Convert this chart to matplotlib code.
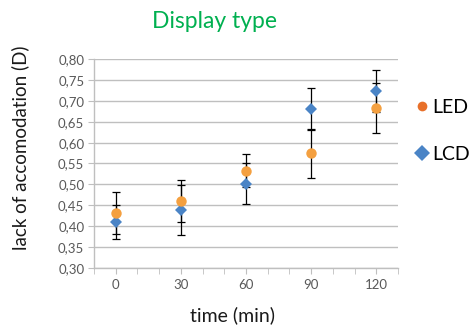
import matplotlib

matplotlib.use("Agg")
import matplotlib.pyplot as plt
from matplotlib.lines import Line2D

# data
times = [0, 30, 60, 90, 120]
led_values = [0.432, 0.460, 0.533, 0.574, 0.682]
led_errors = [0.050, 0.050, 0.040, 0.058, 0.060]
lcd_values = [0.410, 0.438, 0.502, 0.681, 0.724]
lcd_errors = [0.040, 0.060, 0.050, 0.050, 0.050]
y_ticks = [0.30, 0.35, 0.40, 0.45, 0.50, 0.55, 0.60, 0.65, 0.70, 0.75, 0.80]
x_ticks = [0, 30, 60, 90, 120]

ORANGE = "#F4A040"
ORANGE_LEGEND = "#E8702A"
BLUE = "#4A84C6"
GREEN = "#00B050"
GRID = "#BFBFBF"
TICK_TEXT = "#595959"
W, H = 472, 327

plt.rcParams["font.family"] = ["Lato", "DejaVu Sans"]

fig = plt.figure(figsize=(W / 100, H / 100), dpi=100)
ax = fig.add_axes([94 / W, 1 - 267.7 / H, (398 - 94) / W, (267.7 - 59.3) / H])

ax.errorbar(times, lcd_values, yerr=lcd_errors, fmt="none", ecolor="black",
            elinewidth=0.9, capsize=2.6, capthick=0.9, zorder=3)
ax.errorbar(times, led_values, yerr=led_errors, fmt="none", ecolor="black",
            elinewidth=0.9, capsize=2.6, capthick=0.9, zorder=3)
ax.plot(times, lcd_values, linestyle="none", marker="D", markersize=6.0,
        color=BLUE, markeredgewidth=0, zorder=4)
ax.plot(times, led_values, linestyle="none", marker="o", markersize=7.5,
        color=ORANGE, markeredgewidth=0, zorder=4)

ax.set_xlim(-10, 130)
ax.set_ylim(0.30, 0.80)
ax.set_yticks(y_ticks)
ax.set_yticklabels([f"{v:.2f}".replace(".", ",") for v in y_ticks])
ax.set_xticks(x_ticks)
ax.set_xticks(range(-10, 131, 10), minor=True)
ax.grid(axis="y", color=GRID, linewidth=1.0, zorder=0)
ax.set_axisbelow(True)
for side in ("top", "right"):
    ax.spines[side].set_visible(False)
for side in ("left", "bottom"):
    ax.spines[side].set_color(GRID)
    ax.spines[side].set_linewidth(1.0)
ax.tick_params(axis="y", length=4, color=GRID, labelsize=9.5, labelcolor=TICK_TEXT, pad=3)
ax.tick_params(axis="x", which="both", length=4, color=GRID, labelsize=9.5,
               labelcolor=TICK_TEXT, pad=4)

fig.text(215 / W, 1 - 21 / H, "Display type", color=GREEN, fontsize=16.5,
         ha="center", va="center")
fig.text(20 / W, 1 - 148 / H, "lack of accomodation (D)", rotation=90,
         fontsize=13.5, ha="center", va="center", color="#1a1a1a")
fig.text(232 / W, 1 - 315 / H, "time (min)", fontsize=14, ha="center",
         va="center", color="#1a1a1a")

handles = [
    Line2D([], [], linestyle="none", marker="o", markersize=7, color=ORANGE_LEGEND,
           markeredgewidth=0),
    Line2D([], [], linestyle="none", marker="D", markersize=8, color=BLUE,
           markeredgewidth=0),
]
fig.legend(handles, ["LED", "LCD"], loc="upper left",
           bbox_to_anchor=(404 / W, 1 - 89 / H), frameon=False, fontsize=14,
           handlelength=0.8, handletextpad=0.15, labelspacing=1.55, borderpad=0)

fig.savefig("out.png", dpi=100)
